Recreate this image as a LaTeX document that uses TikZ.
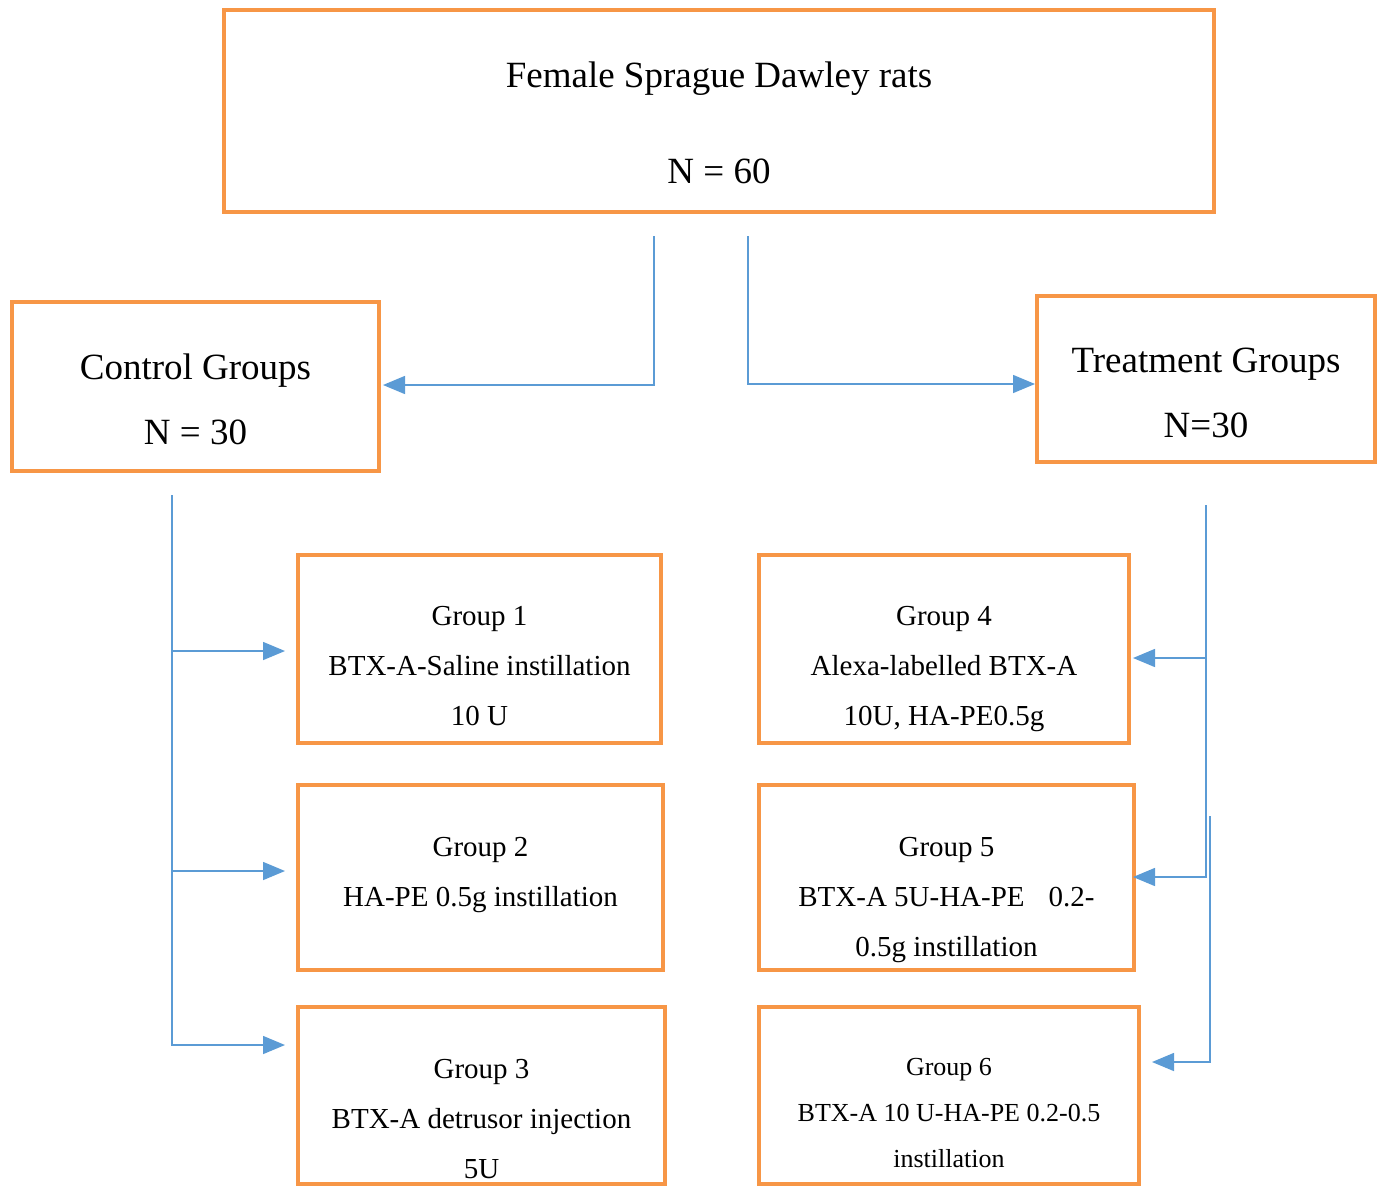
\documentclass[tikz,border=0pt]{standalone}
\usepackage{fontspec}
\setmainfont{Liberation Serif}
\usepackage{tikz}
\usetikzlibrary{arrows.meta}
\usetikzlibrary{positioning}
\definecolor{boxorange}{RGB}{247,150,70}
\definecolor{linkblue}{RGB}{91,155,213}
% box text: width, height, first baseline, lines
\newcommand{\boxtext}[4]{\parbox[c][#2][t]{#1}{\centering\rule{0pt}{#3}#4}}

\begin{document}
\begin{tikzpicture}[x=0.5pt,y=-0.5pt,
  grp/.style={draw=boxorange, line width=2pt, inner sep=0pt, outer sep=0pt, anchor=north west},
  conn/.style={draw=linkblue, line width=0.75pt},
  tri/.style={-{Triangle[length=11pt,width=9pt,fill=linkblue]}}]
\useasboundingbox (0,0) rectangle (1379,1194);
% top and the two arms
\node (rats) at (224,10) [grp,font=\fontsize{18.5}{48}\selectfont] {\boxtext{495pt}{101pt}{38.5pt}{Female Sprague Dawley rats\\N = 60}};
\node (ctrl) at (12,302) [grp,font=\fontsize{18.5}{32.5}\selectfont] {\boxtext{183.5pt}{84.5pt}{38.5pt}{Control Groups\\N = 30}};
\node (treat) at (1037,296) [grp,font=\fontsize{18.5}{32.5}\selectfont] {\boxtext{169pt}{83pt}{38pt}{Treatment Groups\\N=30}};
% control groups
\node (g1) at (298,555) [grp,font=\fontsize{14.5}{25}\selectfont] {\boxtext{181.5pt}{94pt}{35pt}{Group 1\\BTX-A-Saline instillation\\10 U}};
\node (g2) at (298,785) [grp,font=\fontsize{14.5}{25}\selectfont] {\boxtext{182.5pt}{92.5pt}{35.5pt}{Group 2\\HA-PE 0.5g instillation}};
\node (g3) at (298,1007) [grp,font=\fontsize{14.5}{25}\selectfont] {\boxtext{183.5pt}{88.5pt}{35.5pt}{Group 3\\BTX-A detrusor injection\\5U}};
% treatment groups
\node (g4) at (759,555) [grp,font=\fontsize{14.5}{25}\selectfont] {\boxtext{185pt}{94pt}{35pt}{Group 4\\Alexa-labelled BTX-A\\10U, HA-PE0.5g}};
\node (g5) at (759,785) [grp,font=\fontsize{14.5}{25}\selectfont] {\boxtext{187.5pt}{92.5pt}{35.5pt}{Group 5\\BTX-A 5U-HA-PE\hspace{12pt}0.2-\\0.5g instillation}};
\node (g6) at (759,1007) [grp,font=\fontsize{13}{23}\selectfont] {\boxtext{190pt}{88.5pt}{34pt}{Group 6\\BTX-A 10 U-HA-PE 0.2-0.5\\instillation}};
% split under the top box
\coordinate (splitL) at (654,236);
\coordinate (splitR) at (748,236);
\draw[conn,tri] (splitL) |- ([xshift=2pt,yshift=0.75pt]ctrl.east);
\draw[conn,tri] (splitR) |- ([xshift=-1pt,yshift=-2.5pt]treat.west);
% left trunk
\coordinate (cl) at (172,495);
\coordinate (t1) at (285,651);
\coordinate (t2) at (285,871);
\coordinate (t3) at (285,1045);
\draw[conn,tri] (cl) |- (t3);
\foreach \i in {1,2} {
\draw[conn,tri] (cl |- t\i) -- (t\i);
}
% right trunks
\coordinate (cr) at (1206,505);
\coordinate (t4) at (1133,658);
\coordinate (t5) at (1133,877);
\coordinate (cr2) at (1210,816);
\coordinate (t6) at (1152,1062);
\draw[conn,tri] (cr) |- (t5);
\draw[conn,tri] (cr |- t4) -- (t4);
\draw[conn,tri] (cr2) |- (t6);
\end{tikzpicture}
\end{document}
